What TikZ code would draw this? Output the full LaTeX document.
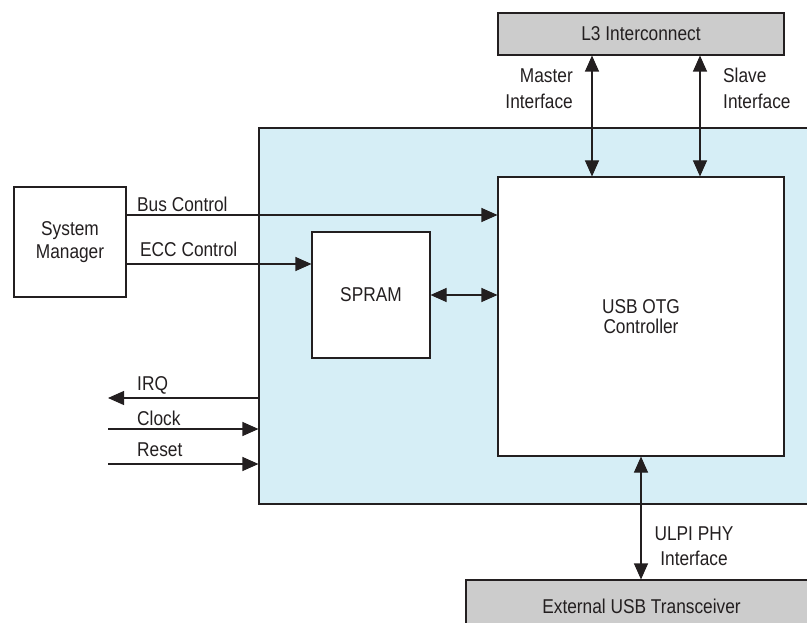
\documentclass[tikz,border=0pt]{standalone}
\usepackage{fontspec}
\setmainfont{Liberation Sans}[FakeStretch=0.865]
\usetikzlibrary{arrows.meta}
\definecolor{regionblue}{HTML}{D6EEF6}
\definecolor{boxgray}{HTML}{CCCCCC}
\definecolor{ink}{HTML}{231F20}
\tikzset{
  blk/.style={draw=ink, line width=1.1pt, inner sep=0pt, align=center, text=ink},
  lbl/.style={inner sep=0pt, text=ink},
  conn/.style={draw=ink, line width=1.1pt},
  tip/.style={-{Triangle[length=16pt,width=14pt]}},
  tips/.style={{Triangle[length=16pt,width=14pt]}-{Triangle[length=16pt,width=14pt]}},
}
\begin{document}
\begin{tikzpicture}[x=1pt,y=-1pt,font=\fontsize{20}{24}\selectfont]
\useasboundingbox (0,0) rectangle (807,623);
\clip (0,0) rectangle (807,623);
% region
\node[blk, fill=regionblue, minimum width=553pt, minimum height=376pt] (region) at (535.5,316) {};
% boxes
\node[blk, fill=boxgray, minimum width=286pt, minimum height=42pt] (L3) at (641,34) {L3 Interconnect};
\node[blk, fill=white, minimum width=286pt, minimum height=279pt, font=\fontsize{20}{20.7}\selectfont] (OTG) at (641,316.5) {USB OTG\\Controller};
\node[blk, fill=white, minimum width=118pt, minimum height=126pt] (SPRAM) at (371,295) {SPRAM};
\node[blk, fill=white, minimum width=112pt, minimum height=110pt, font=\fontsize{20}{23.3}\selectfont] (SM) at (70,242) {System\\Manager};
\node[blk, fill=boxgray, minimum width=351pt, minimum height=52pt] (EXT) at (641.5,606) {External USB Transceiver};
% free ends
\coordinate (irqend) at (108,398);
\coordinate (clkstart) at (108,429);
\coordinate (rststart) at (108,464);
% connectors
\draw[conn, tips] (L3.south -| 592,0) -- (OTG.north -| 592,0);
\draw[conn, tips] (L3.south -| 700,0) -- (OTG.north -| 700,0);
\draw[conn, tips] (OTG.south) -- (OTG.south |- EXT.north);
\draw[conn, tip] (SM.east |- 0,215) -- (OTG.west |- 0,215);
\draw[conn, tip] (SM.east |- 0,264) -- (SPRAM.west |- 0,264);
\draw[conn, tips] (SPRAM.east) -- (SPRAM.east -| OTG.west);
\draw[conn, tip] (region.west |- irqend) -- (irqend);
\draw[conn, tip] (clkstart) -- (clkstart -| region.west);
\draw[conn, tip] (rststart) -- (rststart -| region.west);
% labels
\node[lbl, anchor=east, align=right, font=\fontsize{20}{26}\selectfont] (mlbl) at (573,88.5) {Master\\Interface};
\node[lbl, anchor=west, align=left, font=\fontsize{20}{26}\selectfont] (slbl) at (723,88.5) {Slave\\Interface};
\node[lbl, align=center, font=\fontsize{20}{25}\selectfont] (ulbl) at (694,546.7) {ULPI PHY\\Interface};
\node[lbl, anchor=base west] (buslbl) at (137,211.7) {Bus Control};
\node[lbl, anchor=base west] (ecclbl) at (140,256.5) {ECC Control};
\node[lbl, anchor=base west] (irqlbl) at (137,390) {IRQ};
\node[lbl, anchor=base west] (clklbl) at (137,425.5) {Clock};
\node[lbl, anchor=base west] (rstlbl) at (137,456.5) {Reset};
\end{tikzpicture}
\end{document}
